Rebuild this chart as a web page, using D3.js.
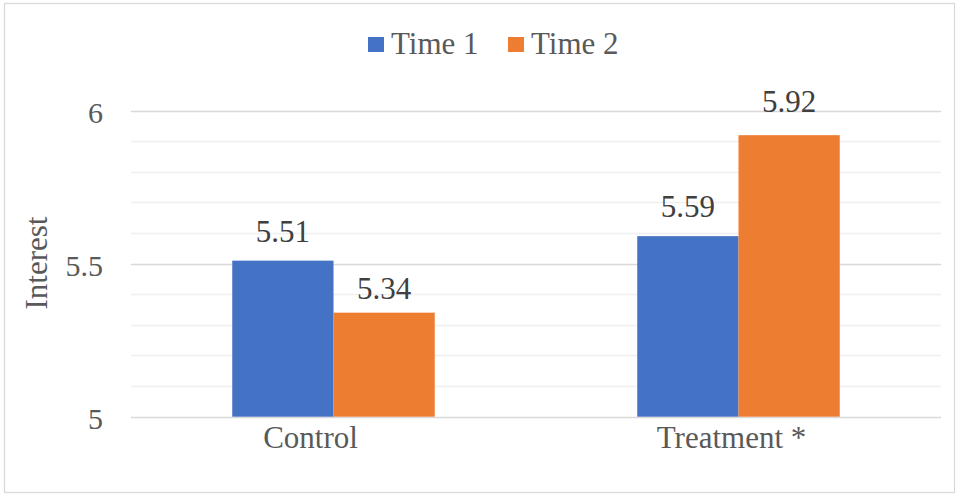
<!DOCTYPE html>
<html>
<head>
<meta charset="utf-8">
<script src="https://cdn.jsdelivr.net/npm/d3@7/dist/d3.min.js"></script>
<style>
  html, body { margin: 0; padding: 0; background: #fff; }
  svg { display: block; }
  svg text { font-family: "Liberation Serif", "Times New Roman", serif; }
</style>
</head>
<body>
<svg id="chart" width="959" height="495"></svg>
<script>
// Chart data
const categories = ["Control", "Treatment *"];
const seriesNames = ["Time 1", "Time 2"];
const time1 = [5.51, 5.59];
const time2 = [5.34, 5.92];
const yTicks = [5, 5.5, 6];
const colors = ["#4472C4", "#ED7D31"];

const FONT = "Liberation Serif";
const svg = d3.select("#chart");
const W = 959, H = 495;

// Outer chart frame
svg.append("rect")
  .attr("x", 4.5).attr("y", 3.5)
  .attr("width", W - 9).attr("height", H - 6)
  .attr("fill", "#fff").attr("stroke", "#d9d9d9").attr("stroke-width", 1.3);

const plot = { left: 131, right: 941, top: 110.7, bottom: 416.7 };

const x0 = d3.scaleBand().domain(categories)
  .range([plot.left, plot.right]).paddingInner(0.5).paddingOuter(0.25);
const x1 = d3.scaleBand().domain(seriesNames).range([0, x0.bandwidth()]);
const y = d3.scaleLinear().domain([5, 6]).range([plot.bottom, plot.top]);

// Minor gridlines every 0.1
const minor = d3.range(1, 10).map(i => +(5 + i / 10).toFixed(1)).filter(v => v !== 5.5);
svg.append("g").selectAll("line").data(minor).join("line")
  .attr("x1", plot.left).attr("x2", plot.right)
  .attr("y1", d => Math.round(y(d)) + 0.5).attr("y2", d => Math.round(y(d)) + 0.5)
  .attr("stroke", "#f0f0f0").attr("stroke-width", 1.3);

// Major gridlines
svg.append("g").selectAll("line").data(yTicks).join("line")
  .attr("x1", plot.left).attr("x2", plot.right)
  .attr("y1", d => Math.round(y(d)) + 0.5).attr("y2", d => Math.round(y(d)) + 0.5)
  .attr("stroke", "#d9d9d9").attr("stroke-width", 1.3);

// Y axis tick labels
const yAxis = d3.axisLeft(y).tickValues(yTicks).tickSize(0).tickPadding(0)
  .tickFormat(d => d3.format("")(d));
const yg = svg.append("g").attr("transform", `translate(103,0)`).call(yAxis)
  .attr("font-family", FONT);
yg.select(".domain").remove();
yg.selectAll("text")
  .attr("font-family", FONT).attr("font-size", 30)
  .attr("fill", "#595959").attr("dy", "0.38em");

// Bars
const rows = categories.map((c, i) => ({ cat: c, vals: [time1[i], time2[i]] }));
const groups = svg.append("g").selectAll("g").data(rows).join("g")
  .attr("transform", d => `translate(${x0(d.cat)},0)`);

groups.selectAll("rect").data(d => d.vals.map((v, j) => ({ v, s: seriesNames[j], j })))
  .join("rect")
  .attr("x", d => x1(d.s))
  .attr("y", d => y(d.v))
  .attr("width", x1.bandwidth())
  .attr("height", d => y(5) - y(d.v))
  .attr("fill", d => colors[d.j]);

// Value labels, lifted above each bar top
const labelLift = [[19, 14], [19, 23]];
groups.selectAll("text").data((d, i) => d.vals.map((v, j) => ({ v, s: seriesNames[j], lift: labelLift[i][j] })))
  .join("text")
  .attr("x", d => x1(d.s) + x1.bandwidth() / 2)
  .attr("y", d => y(d.v) - d.lift)
  .attr("text-anchor", "middle")
  .attr("font-family", FONT).attr("font-size", 31)
  .attr("fill", "#404040")
  .text(d => d3.format(".2f")(d.v));

// X axis category labels
const labelShift = [-23, -7];
const xAxis = d3.axisBottom(x0).tickSize(0).tickPadding(0);
const xg = svg.append("g").attr("transform", `translate(0,${plot.bottom})`).call(xAxis)
  .attr("font-family", FONT);
xg.select(".domain").remove();
xg.selectAll("text")
  .attr("font-family", FONT).attr("font-size", 31)
  .attr("fill", "#595959")
  .attr("dy", null).attr("y", 31)
  .attr("dx", (d, i) => labelShift[i]);

// Y axis title
svg.append("text")
  .attr("transform", `translate(47,263) rotate(-90)`)
  .attr("text-anchor", "middle")
  .attr("font-family", FONT).attr("font-size", 31)
  .attr("fill", "#595959")
  .text("Interest");

// Legend
const legendItems = [
  { name: seriesNames[0], color: colors[0], x: 368 },
  { name: seriesNames[1], color: colors[1], x: 508 }
];
const lg = svg.append("g").selectAll("g").data(legendItems).join("g")
  .attr("transform", d => `translate(${d.x},0)`);
lg.append("rect").attr("x", 0).attr("y", 37).attr("width", 16).attr("height", 15)
  .attr("fill", d => d.color);
lg.append("text").attr("x", 23).attr("y", 54)
  .attr("font-family", FONT).attr("font-size", 31)
  .attr("fill", "#595959")
  .text(d => d.name);
</script>
</body>
</html>
